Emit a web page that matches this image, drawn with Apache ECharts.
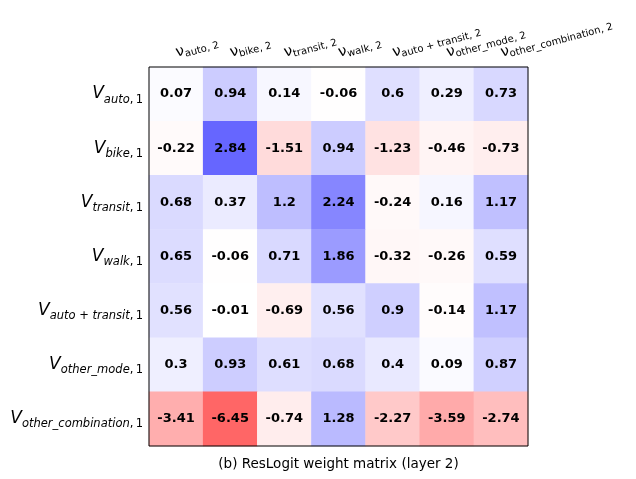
<!DOCTYPE html>
<html>
<head>
<meta charset="utf-8">
<script src="https://cdn.jsdelivr.net/npm/echarts@6/dist/echarts.min.js"></script>
<style>
  html, body { margin: 0; padding: 0; background: #fff; }
  #chart { width: 636px; height: 479px; }
</style>
</head>
<body>
<div id="chart"></div>
<script>
// Column (next layer) and row (previous layer) names
const colNames = ['auto', 'bike', 'transit', 'walk', 'auto + transit', 'other_mode', 'other_combination'];
const rowNames = ['auto', 'bike', 'transit', 'walk', 'auto + transit', 'other_mode', 'other_combination'];

// Weight values, one array per row
const rowAuto        = [0.07, 0.94, 0.14, -0.06, 0.6, 0.29, 0.73];
const rowBike        = [-0.22, 2.84, -1.51, 0.94, -1.23, -0.46, -0.73];
const rowTransit     = [0.68, 0.37, 1.2, 2.24, -0.24, 0.16, 1.17];
const rowWalk        = [0.65, -0.06, 0.71, 1.86, -0.32, -0.26, 0.59];
const rowAutoTransit = [0.56, -0.01, -0.69, 0.56, 0.9, -0.14, 1.17];
const rowOtherMode   = [0.3, 0.93, 0.61, 0.68, 0.4, 0.09, 0.87];
const rowOtherComb   = [-3.41, -6.45, -0.74, 1.28, -2.27, -3.59, -2.74];
const weightRows = [rowAuto, rowBike, rowTransit, rowWalk, rowAutoTransit, rowOtherMode, rowOtherComb];

const titleText = '(b) ResLogit weight matrix (layer 2)';

// Diverging colour: white at zero, blue for positive, red for negative,
// each side scaled to its own extreme and blended at 60% over white.
const posMax = Math.max(...weightRows.flat());
const negMin = Math.min(...weightRows.flat());
function cellColor(v) {
  const alpha = 0.6;
  const s = v >= 0 ? v / posMax : v / negMin;
  const c = Math.round(255 * (1 - alpha * s));
  return v >= 0 ? `rgb(${c},${c},255)` : `rgb(255,${c},${c})`;
}

const data = [];
weightRows.forEach((row, r) => {
  row.forEach((v, c) => {
    data.push({ value: [c, r, v], itemStyle: { color: cellColor(v) } });
  });
});

const FONT = 'DejaVu Sans';
const chart = echarts.init(document.getElementById('chart'), null, { renderer: 'canvas' });
chart.setOption({
  animation: false,
  backgroundColor: '#fff',
  grid: {
    left: 149, right: 108, top: 67, bottom: 33,
    outerBoundsMode: 'none',
    containLabel: false,
    show: true, borderColor: '#000', borderWidth: 1, backgroundColor: 'transparent', z: 10
  },
  title: {
    text: titleText,
    left: 338.5, textAlign: 'center', top: 457, padding: 0,
    textStyle: { fontFamily: FONT, fontSize: 13.5, fontWeight: 'normal', color: '#000' }
  },
  xAxis: {
    type: 'category',
    position: 'top',
    data: colNames,
    axisLine: { show: false },
    axisTick: { show: false },
    splitLine: { show: false },
    axisLabel: {
      interval: 0,
      rotate: -15,
      margin: 14,
      align: 'left',
      overflow: 'none',
      hideOverlap: false,
      formatter: (name) => `{nu|ν}{sub|${name}, 2}`,
      rich: {
        nu: { fontFamily: FONT, fontSize: 15, color: '#000' },
        sub: { fontFamily: FONT, fontSize: 10, color: '#000', padding: [7, 0, 0, 0] }
      }
    }
  },
  yAxis: {
    type: 'category',
    inverse: true,
    data: rowNames,
    axisLine: { show: false },
    axisTick: { show: false },
    splitLine: { show: false },
    axisLabel: {
      interval: 0,
      margin: 6,
      overflow: 'none',
      formatter: (name) => `{v|V}{sub|${name}}{n|,\u20091}`,
      rich: {
        v: { fontFamily: FONT, fontSize: 17, fontStyle: 'italic', color: '#000', lineHeight: 26 },
        sub: { fontFamily: FONT, fontSize: 11.5, fontStyle: 'italic', color: '#000', padding: [11, 0, 0, 0] },
        n: { fontFamily: FONT, fontSize: 11.5, color: '#000', padding: [11, 0, 0, 0] }
      }
    }
  },
  series: [{
    type: 'heatmap',
    data: data,
    label: {
      show: true,
      formatter: (p) => String(p.value[2]),
      fontFamily: FONT,
      fontSize: 13,
      fontWeight: 'bold',
      color: '#000'
    },
    itemStyle: { borderWidth: 0 }
  }]
});
</script>
</body>
</html>
